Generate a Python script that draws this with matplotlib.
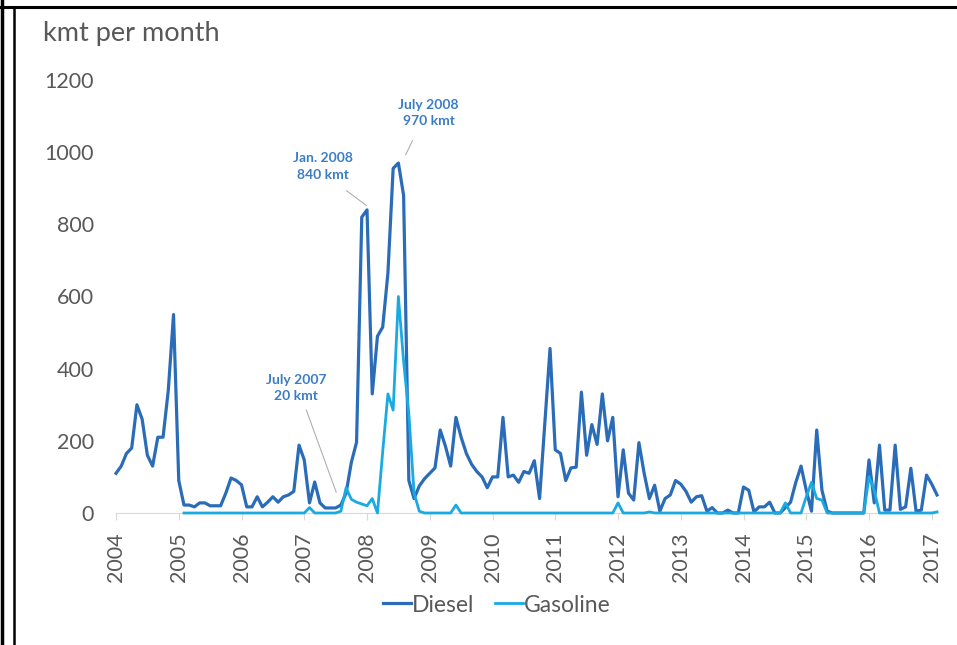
import matplotlib.pyplot as plt
from matplotlib.lines import Line2D
import numpy as np

plt.rcParams['font.family'] = ['Lato', 'DejaVu Sans']

# monthly values, Jan 2004 .. Feb 2017 (kmt per month)
diesel = [
    110, 130, 165, 180, 300, 260, 160, 130, 210, 210, 340, 550,   # 2004
    90, 22, 22, 17, 28, 28, 20, 20, 20, 55, 97, 90,                # 2005
    78, 17, 17, 45, 17, 30, 45, 30, 45, 50, 60, 188,               # 2006
    147, 28, 86, 28, 14, 14, 14, 22, 55, 140, 196, 820,            # 2007
    840, 330, 490, 515, 665, 955, 970, 880, 90, 40, 75, 95,        # 2008
    110, 125, 230, 185, 130, 265, 210, 165, 135, 115, 100, 70,     # 2009
    100, 100, 265, 100, 105, 85, 115, 110, 145, 40, 250, 456,      # 2010
    175, 165, 90, 125, 127, 335, 160, 245, 190, 330, 200, 265,     # 2011
    45, 175, 55, 36, 195, 110, 40, 77, 5, 40, 50, 90,              # 2012
    80, 60, 30, 45, 48, 5, 15, 0, 0, 8, 0, 0,                      # 2013
    72, 63, 3, 17, 17, 30, 0, 0, 15, 30, 85, 130,                  # 2014
    63, 5, 230, 63, 5, 0, 0, 0, 0, 0, 0, 0,                        # 2015
    147, 28, 188, 8, 8, 188, 10, 17, 124, 5, 8, 105,               # 2016
    80, 50,                                                        # 2017
]
gasoline = [
    None] * 13 + [
    0, 0, 0, 0, 0, 0, 0, 0, 0, 0, 0,                               # 2005
    0, 0, 0, 0, 0, 0, 0, 0, 0, 0, 0, 0,                            # 2006
    0, 15, 0, 0, 0, 0, 0, 5, 70, 38, 30, 25,                       # 2007
    20, 40, 0, 170, 330, 285, 600, 420, 275, 55, 5, 0,             # 2008
    0, 0, 0, 0, 0, 22, 0, 0, 0, 0, 0, 0,                           # 2009
    0, 0, 0, 0, 0, 0, 0, 0, 0, 0, 0, 0,                            # 2010
    0, 0, 0, 0, 0, 0, 0, 0, 0, 0, 0, 0,                            # 2011
    28, 0, 0, 0, 0, 0, 3, 0, 0, 0, 0, 0,                           # 2012
    0, 0, 0, 0, 0, 0, 0, 0, 0, 0, 0, 0,                            # 2013
    0, 0, 0, 0, 0, 0, 0, 0, 28, 0, 0, 0,                           # 2014
    45, 85, 40, 36, 0, 0, 0, 0, 0, 0, 0, 0,                        # 2015
    100, 63, 0, 0, 0, 0, 0, 0, 0, 0, 0, 0,                         # 2016
    0, 3,                                                          # 2017
]
years = list(range(2004, 2018))
yticks = [0, 200, 400, 600, 800, 1000, 1200]

# (text, point month index, point value)
notes = [("July 2007\n20 kmt", 42, 20),
         ("Jan. 2008\n840 kmt", 48, 840),
         ("July 2008\n970 kmt", 54, 970)]

months = np.arange(len(diesel))
gas = np.array([np.nan if v is None else v for v in gasoline], dtype=float)

fig = plt.figure(figsize=(9.57, 6.45), dpi=100)
ax = fig.add_axes([116/957, 1-513/645, (937-116)/957, (513-80)/645])

dcol = '#2a6cb8'
gcol = '#1aaae2'
grey = '#595959'
ax.plot(months, diesel, color=dcol, lw=2.3, label='Diesel', clip_on=False, zorder=3)
ax.plot(months, gas, color=gcol, lw=2.0, label='Gasoline', clip_on=False, zorder=4)

ax.set_xlim(0, len(diesel) - 1)
ax.set_ylim(0, 1200)
ax.set_yticks(yticks)
ax.set_yticklabels([str(v) for v in yticks])
ax.set_xticks([12*(y-2004) for y in years])
ax.set_xticklabels([str(y) for y in years], rotation=90)
ax.tick_params(axis='y', length=0, pad=16, labelsize=15.5, labelcolor=grey)
ax.tick_params(axis='x', length=5, color='#d9d9d9', pad=9, labelsize=15.5, labelcolor=grey)
for s in ['top', 'right', 'left']:
    ax.spines[s].set_visible(False)
ax.spines['bottom'].set_color('#d9d9d9')

# leader lines + labels
txt_pos = [(34.5, 346), (39.5, 960), (59.8, 1109)]
line_pos = [((36.4, 285), (42.1, 58)), ((44.1, 893), (47.9, 852)), ((56.7, 1032), (55.4, 993))]
for (label, mx, val), (tx, ty), (a, b) in zip(notes, txt_pos, line_pos):
    ax.text(tx, ty, label, ha='center', va='center', fontsize=10, fontweight='bold',
            color='#3b7dc4', linespacing=1.45)
    ax.plot([a[0], b[0]], [a[1], b[1]], color='#b0b0b0', lw=0.8)

fig.text(43/957, 1-33/645, 'kmt per month', fontsize=19.5, color=grey, va='center', ha='left')

leg = fig.legend(loc='center', bbox_to_anchor=(497/957, 1-605/645), ncol=2, frameon=False,
                 fontsize=16.5, handlelength=1.2, handletextpad=0.05, columnspacing=0.9)
for t in leg.get_texts():
    t.set_color(grey)

# picture frame
fig.add_artist(Line2D([2/957, 2/957], [0, 1], color='black', lw=2.5))
fig.add_artist(Line2D([14/957, 14/957], [0, 1-7/645], color='black', lw=1.8))
fig.add_artist(Line2D([0, 1], [1-7/645, 1-7/645], color='black', lw=2.2))

fig.savefig('out.png', dpi=100)
